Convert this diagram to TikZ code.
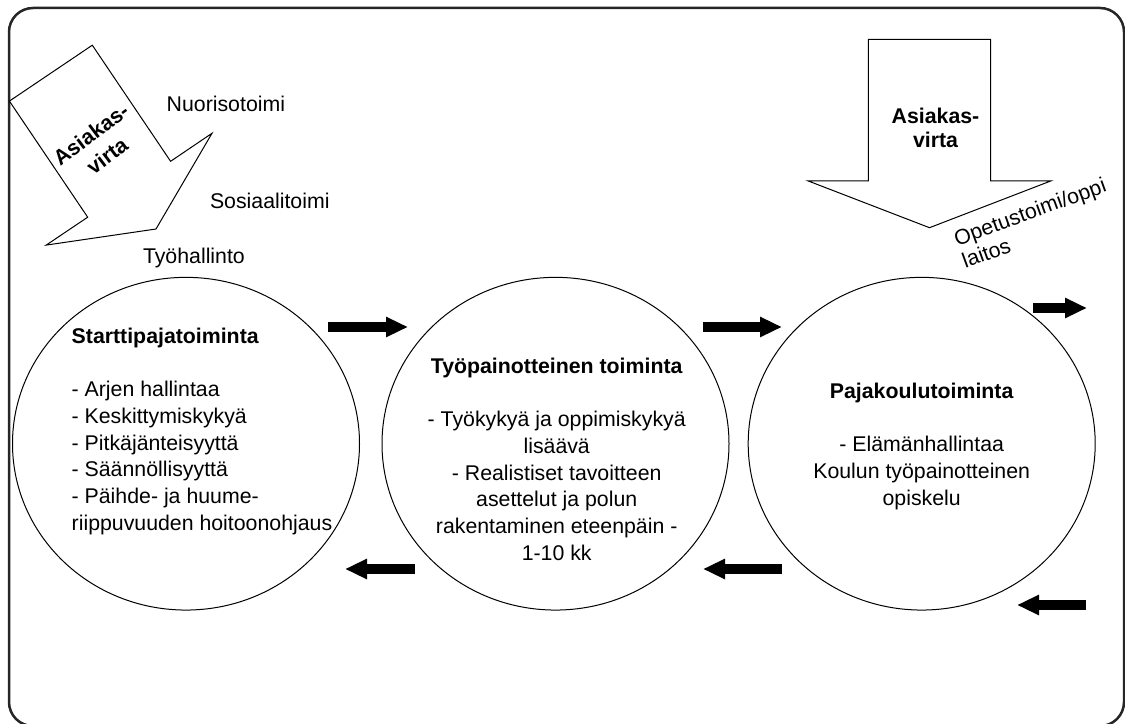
\documentclass[tikz,border=0pt]{standalone}
\usepackage{fontspec}
\setmainfont{Liberation Sans}
\usetikzlibrary{arrows.meta,shapes.geometric}
\begin{document}
\begin{tikzpicture}[x=1bp,y=-1bp,
  every node/.style={inner sep=0pt, outer sep=0pt},
  txt/.style={font=\fontsize{21.3bp}{26.7bp}\selectfont},
  btxt/.style={font=\bfseries\fontsize{21.3bp}{24bp}\selectfont},
  circ/.style={draw=black, line width=1bp, ellipse, minimum width=347bp, minimum height=332.7bp},
  fat/.style={line width=10bp, -{Triangle[length=22bp 0 0, width=19bp 0 0]}},
  block/.style={draw=black, line width=1bp, fill=white, line join=miter}]
\useasboundingbox (0,0) rectangle (1125,724);
\begin{scope}
\clip (0,0) rectangle (1125,724);
\draw[line width=2.5bp, black!85, rounded corners=24bp] (9,8) rectangle (1124,726);
\end{scope}

% circles
\node[circ] (c1) at (186,443.7) {};
\node[circ] (c2) at (555.5,443.7) {};
\node[circ] (c3) at (921.7,443.7) {};

% circle texts
\node[txt, align=left, anchor=north west] (t1) at (71.7,328)
  {\textbf{Starttipajatoiminta}\\[26.7bp]- Arjen hallintaa\\- Keskittymiskykyä\\- Pitkäjänteisyyttä\\- Säännöllisyyttä\\- Päihde- ja huume-\\riippuvuuden hoitoonohjaus};
\node[txt, align=center, anchor=north] (t2) at (556.7,358)
  {\textbf{Työpainotteinen toiminta}\\[26.7bp]- Työkykyä ja oppimiskykyä\\lisäävä\\- Realistiset tavoitteen\\asettelut ja polun\\rakentaminen eteenpäin -\\1-10 kk};
\node[txt, align=center, anchor=north] (t3) at (921.7,383)
  {\textbf{Pajakoulutoiminta}\\[26.7bp]- Elämänhallintaa\\Koulun työpainotteinen\\opiskelu};

% tilted block arrow
\draw[block] (9.4,101.1) -- (87.7,217.2) -- (46.2,245.1) -- (156,229) -- (212,133.3) -- (170.6,161.3) -- (92.3,45.2) -- cycle;
\node[btxt, font=\bfseries\fontsize{21.3bp}{27bp}\selectfont, align=center, rotate=37] (av1) at (99,145) {Asiakas-\\virta};

% vertical block arrow
\draw[block] (868.3,39.3) -- (990.7,39.3) -- (990.7,181) -- (1050.7,181) -- (929.5,227.7) -- (808.3,181) -- (868.3,181) -- cycle;
\node[btxt, align=center, anchor=north] (av2) at (935.5,108) {Asiakas-\\virta};

% labels
\node[txt, anchor=base west] (nuo) at (166.7,111.7) {Nuorisotoimi};
\node[txt, anchor=base west] (sos) at (210,209) {Sosiaalitoimi};
\node[txt, anchor=base west] (tyo) at (143,263) {Työhallinto};
\node[font=\fontsize{21.3bp}{24bp}\selectfont, align=left, anchor=north west, rotate=20] (ope) at (952,231.5) {Opetustoimi/oppi\\laitos};

% black arrows
\coordinate (r1a) at (328,327); \coordinate (r1b) at (408,327);
\coordinate (r2a) at (703,327); \coordinate (r2b) at (782,327);
\coordinate (r3a) at (1033,308); \coordinate (r3b) at (1087,308);
\coordinate (l1a) at (415,569); \coordinate (l1b) at (345,569);
\coordinate (l2a) at (782,569); \coordinate (l2b) at (703,569);
\coordinate (l3a) at (1086,605); \coordinate (l3b) at (1017,605);
\draw[fat] (r1a) -- (r1b);
\draw[fat] (r2a) -- (r2b);
\draw[fat] (r3a) -- (r3b);
\draw[fat] (l1a) -- (l1b);
\draw[fat] (l2a) -- (l2b);
\draw[fat] (l3a) -- (l3b);
\end{tikzpicture}
\end{document}
